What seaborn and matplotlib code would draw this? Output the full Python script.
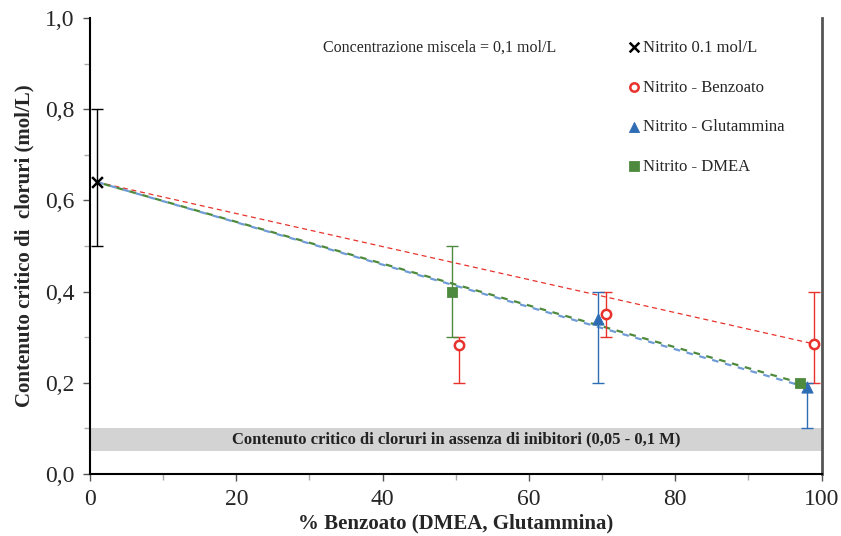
import numpy as np
import pandas as pd
import matplotlib
matplotlib.use("Agg")
import matplotlib.pyplot as plt
from matplotlib.ticker import MultipleLocator, FuncFormatter
import seaborn as sns

# data
nit_x = [1]
nit_y = [0.64]
nit_lo = [0.50]
nit_hi = [0.80]

benz_x = [50.5, 70.5, 99]
benz_y = [0.283, 0.35, 0.285]
benz_lo = [0.20, 0.30, 0.20]
benz_hi = [0.30, 0.40, 0.40]

glut_x = [69.5, 98]
glut_y = [0.34, 0.19]
glut_lo = [0.20, 0.10]
glut_hi = [0.40, 0.20]

dmea_x = [49.5, 97]
dmea_y = [0.40, 0.20]
dmea_lo = [0.30, 0.20]
dmea_hi = [0.50, 0.20]

# trend lines (endpoints)
trend_benz_x = [1, 99]
trend_benz_y = [0.64, 0.285]
trend_glut_x = [1, 98]
trend_glut_y = [0.64, 0.19]
trend_dmea_x = [1, 97]
trend_dmea_y = [0.64, 0.20]

band_lo, band_hi = 0.05, 0.10

sns.set_style("white")
plt.rcParams['font.family'] = ['Liberation Serif', 'DejaVu Serif']

red = "#E8322B"
blue = "#2E6DB4"
green = "#4E8A3E"

fig = plt.figure(figsize=(8.41, 5.36), dpi=100)
ax = fig.add_axes([0.107, 0.1157, 0.870, 0.8507])

# grey band
ax.axhspan(band_lo, band_hi, color="#D3D3D3", lw=0, zorder=0)
ax.text(50, 0.075, "Contenuto critico di cloruri in assenza di inibitori (0,05 - 0,1 M)",
        ha="center", va="center", fontsize=12, fontweight="bold", color="#222222")

# trend lines
ax.plot(trend_benz_x, trend_benz_y, ls=(0, (4, 3)), color=red, lw=0.9, zorder=2)
ax.plot(trend_glut_x, trend_glut_y, ls=(0, (3, 3)), color="#6F9BD6", lw=1.6, zorder=2)
ax.plot(trend_dmea_x, trend_dmea_y, ls=(3, (3, 3)), color=green, lw=1.6, zorder=2)

def errs(y, lo, hi):
    y = np.array(y)
    return [y - np.array(lo), np.array(hi) - y]

ax.errorbar(nit_x, nit_y, yerr=errs(nit_y, nit_lo, nit_hi), fmt="none", ecolor="black", elinewidth=1, capsize=4, zorder=3)
ax.errorbar(benz_x, benz_y, yerr=errs(benz_y, benz_lo, benz_hi), fmt="none", ecolor=red, elinewidth=1, capsize=4, zorder=3)
ax.errorbar(glut_x, glut_y, yerr=errs(glut_y, glut_lo, glut_hi), fmt="none", ecolor=blue, elinewidth=1, capsize=4, zorder=3)
ax.errorbar(dmea_x, dmea_y, yerr=errs(dmea_y, dmea_lo, dmea_hi), fmt="none", ecolor=green, elinewidth=1, capsize=4, zorder=3)

sns.scatterplot(x=nit_x, y=nit_y, marker="x", color="black", s=60, linewidth=1.8, ax=ax, zorder=4, label="Nitrito 0.1 mol/L")
sns.scatterplot(x=benz_x, y=benz_y, marker="o", facecolor="white", edgecolor=red, s=45, linewidth=1.8, ax=ax, zorder=4, label="Nitrito - Benzoato")
sns.scatterplot(x=glut_x, y=glut_y, marker="^", color=blue, edgecolor=blue, s=65, ax=ax, zorder=4, label="Nitrito - Glutammina")
sns.scatterplot(x=dmea_x, y=dmea_y, marker="s", color=green, edgecolor=green, s=55, ax=ax, zorder=4, label="Nitrito - DMEA")

leg = ax.legend(loc="upper left", bbox_to_anchor=(0.712, 0.985), frameon=False, fontsize=12,
                handletextpad=0.0, labelspacing=1.42, handlelength=1.0, markerscale=0.9)

ax.text(0.478, 0.934, "Concentrazione miscela = 0,1 mol/L", transform=ax.transAxes,
        ha="center", va="center", fontsize=11.5)

ax.set_xlim(0, 100)
ax.set_ylim(0, 1.0)
ax.xaxis.set_major_locator(MultipleLocator(20))
ax.xaxis.set_minor_locator(MultipleLocator(10))
ax.yaxis.set_major_locator(MultipleLocator(0.2))
ax.yaxis.set_minor_locator(MultipleLocator(0.1))
ax.yaxis.set_major_formatter(FuncFormatter(lambda v, p: f"{v:.1f}".replace(".", ",")))
ax.tick_params(axis="both", which="major", direction="out", length=5, width=1, color="#555555",
               labelsize=17, pad=6, bottom=True, left=True)
ax.tick_params(axis="both", which="minor", direction="out", length=4, width=1, color="#aaaaaa",
               bottom=True, left=True)

for s in ["left", "bottom"]:
    ax.spines[s].set_color("black")
    ax.spines[s].set_linewidth(1.5)
ax.spines["right"].set_color("#555555")
ax.spines["right"].set_linewidth(2)
ax.spines["top"].set_visible(False)

ax.set_xlabel("% Benzoato (DMEA, Glutammina)", fontsize=15, fontweight="bold", labelpad=2)
ax.set_ylabel("Contenuto critico di  cloruri (mol/L)", fontsize=15, fontweight="bold", labelpad=8)

fig.savefig("out.png", dpi=100)
